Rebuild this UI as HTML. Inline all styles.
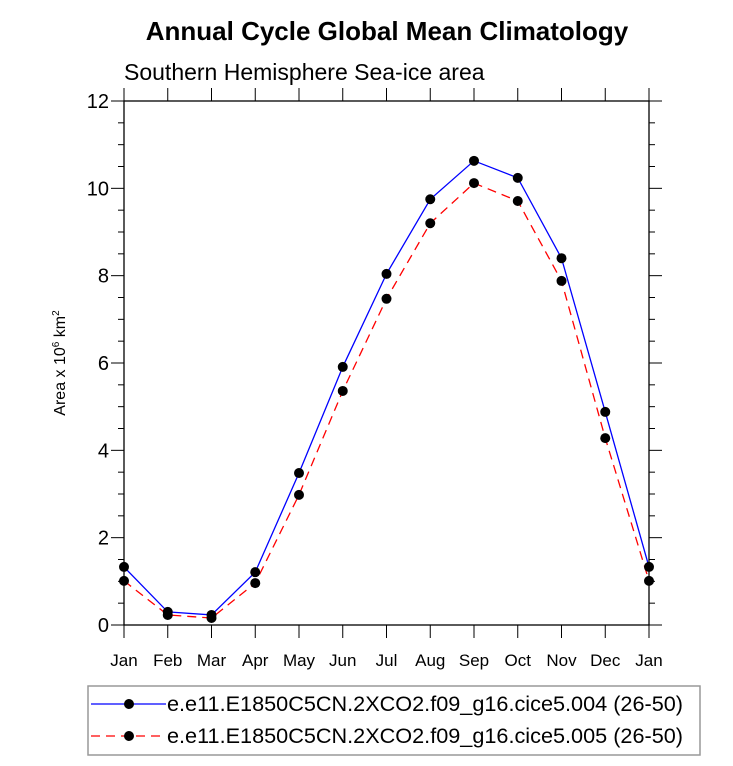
<!DOCTYPE html>
<html><head><meta charset="utf-8"><style>
body{margin:0;background:#fff;width:733px;height:761px;overflow:hidden}
svg text{font-family:"Liberation Sans",Arial,sans-serif}
</style></head><body>
<svg id="c" width="733" height="761" xmlns="http://www.w3.org/2000/svg">
<text x="387" y="40" text-anchor="middle" font-size="26" font-weight="bold">Annual Cycle Global Mean Climatology</text>
<text x="124" y="80" font-size="23">Southern Hemisphere Sea-ice area</text>
<text transform="translate(65,363) rotate(-90)" text-anchor="middle" font-size="16">Area x 10<tspan dy="-6" font-size="10">6</tspan><tspan dy="6"> km</tspan><tspan dy="-6" font-size="10">2</tspan></text>
<g id="axes"></g><g id="series"></g>
<g>
<rect x="88" y="686" width="612" height="69" fill="none" stroke="#999" stroke-width="1.5"/>
<line x1="91" y1="704" x2="166" y2="704" stroke="#00f" stroke-width="1.3"/>
<circle cx="129" cy="704" r="5" fill="#000"/>
<text x="167" y="711" font-size="21" textLength="516" lengthAdjust="spacingAndGlyphs">e.e11.E1850C5CN.2XCO2.f09_g16.cice5.004 (26-50)</text>
<line x1="91" y1="736" x2="166" y2="736" stroke="#f00" stroke-width="1.3" stroke-dasharray="9,6"/>
<circle cx="129" cy="736" r="5" fill="#000"/>
<text x="167" y="743" font-size="21" textLength="516" lengthAdjust="spacingAndGlyphs">e.e11.E1850C5CN.2XCO2.f09_g16.cice5.005 (26-50)</text>
</g>
</svg>
<script>
const months=["Jan","Feb","Mar","Apr","May","Jun","Jul","Aug","Sep","Oct","Nov","Dec","Jan"];
const series004=[1.33,0.30,0.23,1.21,3.48,5.91,8.04,9.75,10.63,10.24,8.40,4.88,1.33];
const series005=[1.01,0.23,0.16,0.96,2.98,5.36,7.47,9.20,10.12,9.71,7.88,4.28,1.01];
const yTicks=[0,2,4,6,8,10,12];
const L=124,R=649,T=101,B=625;
const x=i=>L+(R-L)*i/12, y=v=>B-(B-T)*v/12;
const NS="http://www.w3.org/2000/svg";
function mk(t,a,p){const e=document.createElementNS(NS,t);for(const k in a)e.setAttribute(k,a[k]);p.appendChild(e);return e;}
const ax=document.getElementById('axes');
const fr=mk('rect',{x:L,y:T,width:R-L,height:B-T,fill:'none',stroke:'#000','stroke-width':1.3},ax);


for(let v=0;v<=12.001;v+=0.5){
 const maj=Math.abs(v%2)<1e-6, len=maj?13:6;
 mk('line',{x1:L-len,x2:L,y1:y(v),y2:y(v),stroke:'#000','stroke-width':1},ax);
 mk('line',{x1:R,x2:R+len,y1:y(v),y2:y(v),stroke:'#000','stroke-width':1},ax);
}
yTicks.forEach(v=>{const t=mk('text',{x:L-15,y:y(v)+7,'text-anchor':'end','font-size':20},ax);t.textContent=v;

});
months.forEach((m,i)=>{
 mk('line',{x1:x(i),x2:x(i),y1:B,y2:B+13,stroke:'#000','stroke-width':1},ax);
 mk('line',{x1:x(i),x2:x(i),y1:T-13,y2:T,stroke:'#000','stroke-width':1},ax);
 const t=mk('text',{x:x(i),y:B+41,'text-anchor':'middle','font-size':17},ax);t.textContent=m;
 
 
});
const sg=document.getElementById('series');
function draw(vals,col,dash,name){
 const p=mk('polyline',{points:vals.map((v,i)=>x(i)+','+y(v)).join(' '),fill:'none',stroke:col,'stroke-width':1.3,'stroke-dasharray':dash},sg);
 
 
 vals.forEach((v,i)=>{const c=mk('circle',{cx:x(i),cy:y(v),r:5,fill:'#000'},sg);
 
 });
}
draw(series005,'#f00','9,6','series-005');
draw(series004,'#00f','none','series-004');
</script>
</body></html>
